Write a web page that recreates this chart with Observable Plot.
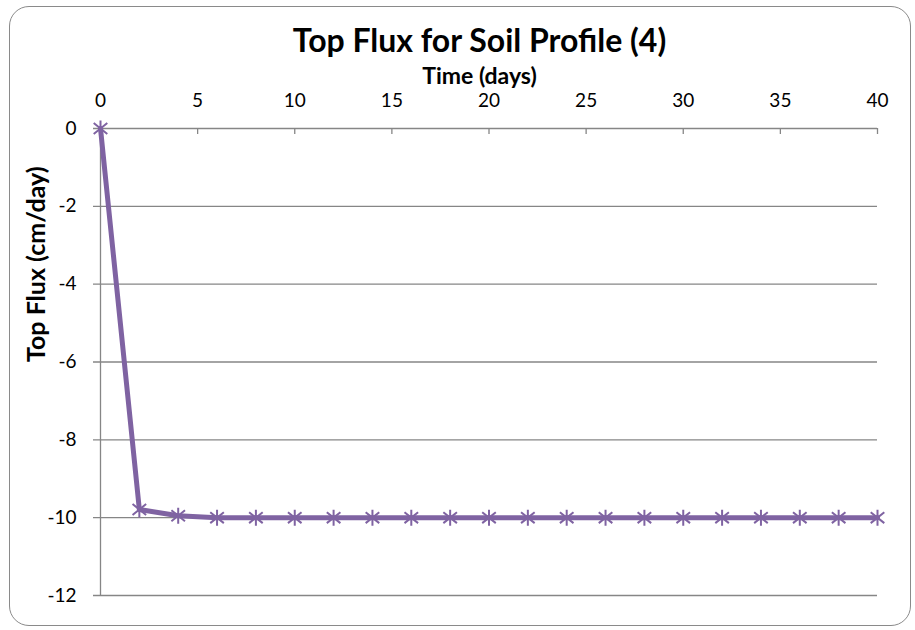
<!DOCTYPE html>
<html>
<head>
<meta charset="utf-8">
<script src="https://cdn.jsdelivr.net/npm/d3@7"></script>
<script src="https://cdn.jsdelivr.net/npm/@observablehq/plot@0.6"></script>
<style>
  html, body { margin: 0; padding: 0; background: #fff; }
  #wrap { position: relative; width: 915px; height: 630px; }
  #border { position: absolute; left: 9px; top: 6px; width: 902px; height: 620px;
            border: 1.5px solid #8a8a8a; border-radius: 20px; box-sizing: border-box; }
  #chart { position: absolute; left: 0; top: 0; }
</style>
</head>
<body>
<div id="wrap"><div id="border"></div><div id="chart"></div></div>
<script>
const title = "Top Flux for Soil Profile (4)";
const xLabel = "Time (days)";
const yLabel = "Top Flux (cm/day)";
const days = [0, 2, 4, 6, 8, 10, 12, 14, 16, 18, 20, 22, 24, 26, 28, 30, 32, 34, 36, 38, 40];
const flux = [0, -9.79, -9.95, -10, -10, -10, -10, -10, -10, -10, -10, -10, -10, -10, -10, -10, -10, -10, -10, -10, -10];
const xTicks = [0, 5, 10, 15, 20, 25, 30, 35, 40];
const yTicks = [0, -2, -4, -6, -8, -10, -12];

const data = days.map((d, i) => ({day: d, flux: flux[i]}));

const star = {
  draw(context, size) {
    const r = Math.sqrt(size / Math.PI);
    const a = r * 0.85;
    context.moveTo(-a, -a * 0.8); context.lineTo(a, a * 0.8);
    context.moveTo(-a, a * 0.8); context.lineTo(a, -a * 0.8);
    context.moveTo(0, -r); context.lineTo(0, r);
  }
};

const font = "Lato, 'Open Sans', sans-serif";
const purple = "#7f63a2";
const gray = "#868686";

const chart = Plot.plot({
  width: 915,
  height: 630,
  marginLeft: 100,
  marginRight: 38,
  marginTop: 128,
  marginBottom: 35,
  style: {background: "transparent", fontFamily: font, color: "#000"},
  x: {domain: [0, 40], axis: null},
  y: {domain: [-12, 0], axis: null},
  marks: [
    Plot.ruleY(yTicks, {stroke: gray, strokeWidth: 1.3, insetLeft: -7}),
    Plot.ruleX([0], {stroke: gray, strokeWidth: 1.3}),
    Plot.ruleX(xTicks, {stroke: gray, strokeWidth: 1.3, insetBottom: 461}),
    Plot.line(data, {x: "day", y: "flux", stroke: purple, strokeWidth: 5, strokeLinejoin: "round"}),
    Plot.dot(data, {x: "day", y: "flux", symbol: star, r: 8, stroke: purple, strokeWidth: 2, fill: "none"}),
    Plot.text(xTicks, {x: d => d, frameAnchor: "top", dy: -35, fontSize: 19, fill: "#000"}),
    Plot.text(yTicks, {y: d => d, frameAnchor: "left", textAnchor: "end", dx: -24, fontSize: 19, fill: "#000"}),
    Plot.text([title], {frameAnchor: "top", dx: -9.5, dy: -99, fontSize: 32, fontWeight: "bold", fill: "#000"}),
    Plot.text([xLabel], {frameAnchor: "top", dx: -9.5, dy: -61, fontSize: 23, fontWeight: "bold", fill: "#000"}),
    Plot.text([yLabel], {frameAnchor: "left", dx: -64, rotate: -90, fontSize: 25, fontWeight: "bold", fill: "#000"})
  ]
});
document.getElementById("chart").appendChild(chart);
</script>
</body>
</html>
